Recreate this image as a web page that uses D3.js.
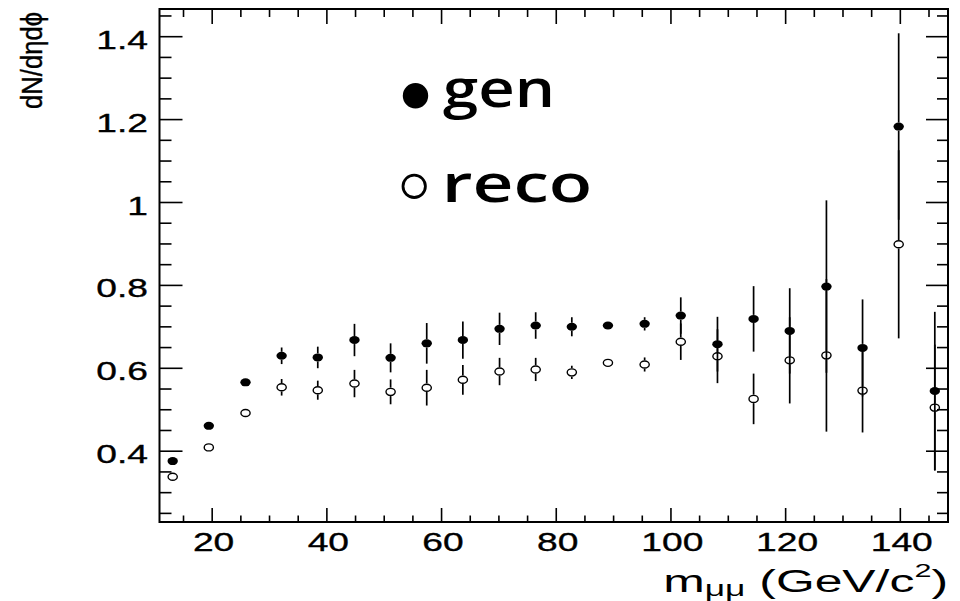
<!DOCTYPE html>
<html>
<head>
<meta charset="utf-8">
<script src="https://cdn.jsdelivr.net/npm/d3@7"></script>
<style>
  html, body { margin: 0; padding: 0; background: #fff; }
  svg { display: block; }
</style>
</head>
<body>
<svg id="chart" width="960" height="601"></svg>
<script>
// ---- data ----
const massBins = [13.2, 19.5, 25.9, 32.2, 38.5, 44.9, 51.2, 57.5, 63.8, 70.2, 76.5,
                  82.8, 89.1, 95.5, 101.8, 108.2, 114.5, 120.8, 127.2, 133.5, 139.8, 146.1];
const genValues = [0.375, 0.460, 0.565, 0.629, 0.625, 0.667, 0.624, 0.659, 0.667, 0.694, 0.702,
                   0.699, 0.702, 0.706, 0.726, 0.657, 0.718, 0.689, 0.796, 0.648, 1.182, 0.544];
const genErrors = [0.004, 0.003, 0.005, 0.020, 0.026, 0.039, 0.035, 0.049, 0.045, 0.039, 0.032,
                   0.023, 0.004, 0.016, 0.044, 0.066, 0.079, 0.103, 0.208, 0.117, 0.225, 0.191];
const recoValues = [0.337, 0.408, 0.491, 0.553, 0.546, 0.562, 0.542, 0.552, 0.571, 0.591, 0.596,
                    0.589, 0.612, 0.608, 0.663, 0.628, 0.525, 0.618, 0.630, 0.545, 0.898, 0.504];
const recoErrors = [0.003, 0.003, 0.005, 0.020, 0.023, 0.033, 0.030, 0.043, 0.036, 0.033, 0.028,
                    0.016, 0.005, 0.017, 0.044, 0.065, 0.061, 0.104, 0.184, 0.101, 0.227, 0.152];
const xTickValues = [20, 40, 60, 80, 100, 120, 140];
const xMinorValues = d3.range(15, 150, 5).filter(v => v % 20 !== 0);
const yTickValues = [0.4, 0.6, 0.8, 1.0, 1.2, 1.4];
const yMinorValues = d3.range(25, 150, 5).map(v => v / 100).filter(v => Math.round(v * 100) % 20 !== 0);
const legendLabels = ["gen", "reco"];
const xTitle = {main: "m", sub: "\u03bc\u03bc", rest: " (GeV/c", sup: "2", close: ")"};
const yTitle = "dN/d\u03b7d\u03d5";

// ---- layout ----
const L = 159.5, R = 948, T = 9, B = 522;
const x = d3.scaleLinear().domain([10.9, 148.4]).range([L, R]);
const y = d3.scaleLinear().domain([0.228, 1.4656]).range([B, T]);

const svg = d3.select("#chart");
const tickFont = "'Liberation Sans', Arial, Helvetica, sans-serif";
const labelScale = 1.43;

function styleAxis(sel) {
  sel.select(".domain").remove();
  sel.selectAll("line").attr("stroke", "#000").attr("stroke-width", 1.6);
}

// minor ticks
svg.append("g").attr("transform", `translate(0,${B})`)
  .call(d3.axisBottom(x).tickValues(xMinorValues).tickSize(-6.5).tickFormat("")).call(styleAxis);
svg.append("g").attr("transform", `translate(0,${T})`)
  .call(d3.axisTop(x).tickValues(xMinorValues).tickSize(-8).tickFormat("")).call(styleAxis);
svg.append("g").attr("transform", `translate(${L},0)`)
  .call(d3.axisLeft(y).tickValues(yMinorValues).tickSize(-12).tickFormat("")).call(styleAxis);
svg.append("g").attr("transform", `translate(${R},0)`)
  .call(d3.axisRight(y).tickValues(yMinorValues).tickSize(-11).tickFormat("")).call(styleAxis);

// major ticks
const xb = svg.append("g").attr("transform", `translate(0,${B})`)
  .call(d3.axisBottom(x).tickValues(xTickValues).tickSize(-14).tickFormat(d3.format("d")));
styleAxis(xb);
xb.selectAll("text").attr("y", 29).attr("dy", 0).attr("x", 1)
  .attr("transform", `scale(${labelScale},1)`)
  .style("font-family", tickFont).style("font-size", "26px").attr("fill", "#000")
  .attr("stroke", "#000").attr("stroke-width", 0.35);

svg.append("g").attr("transform", `translate(0,${T})`)
  .call(d3.axisTop(x).tickValues(xTickValues).tickSize(-15).tickFormat("")).call(styleAxis);

const yl = svg.append("g").attr("transform", `translate(${L},0)`)
  .call(d3.axisLeft(y).tickValues(yTickValues).tickSize(-23).tickFormat(d => d3.format("")(+d.toFixed(1))));
styleAxis(yl);
yl.selectAll("text").attr("x", -11.5 / labelScale).attr("y", 12).attr("dy", 0)
  .attr("transform", `scale(${labelScale},1)`)
  .style("font-family", tickFont).style("font-size", "26px").attr("fill", "#000")
  .attr("stroke", "#000").attr("stroke-width", 0.35);

svg.append("g").attr("transform", `translate(${R},0)`)
  .call(d3.axisRight(y).tickValues(yTickValues).tickSize(-22).tickFormat("")).call(styleAxis);

// frame
svg.append("rect").attr("x", L).attr("y", T).attr("width", R - L).attr("height", B - T)
  .attr("fill", "none").attr("stroke", "#000").attr("stroke-width", 2);

// ---- data marks ----
const genRx = 5.2, genRy = 4, recoRx = 5.3, recoRy = 4.2;
function drawSeries(values, errors, rx, ry, filled) {
  const g = svg.append("g");
  values.forEach((v, i) => {
    const cx = x(massBins[i]), cy = y(v);
    const top = y(v + errors[i]), bot = y(v - errors[i]);
    if (cy - top > ry) {
      g.append("line").attr("x1", cx).attr("x2", cx).attr("y1", top).attr("y2", cy - ry)
        .attr("stroke", "#000").attr("stroke-width", 1.7);
      g.append("line").attr("x1", cx).attr("x2", cx).attr("y1", cy + ry).attr("y2", bot)
        .attr("stroke", "#000").attr("stroke-width", 1.7);
    }
  });
  g.selectAll("ellipse").data(values).enter().append("ellipse")
    .attr("cx", (d, i) => x(massBins[i])).attr("cy", d => y(d))
    .attr("rx", filled ? rx : rx - 0.7).attr("ry", filled ? ry : ry - 0.7)
    .attr("fill", filled ? "#000" : "none")
    .attr("stroke", filled ? "none" : "#000").attr("stroke-width", 1.4);
}
drawSeries(genValues, genErrors, genRx, genRy, true);
drawSeries(recoValues, recoErrors, recoRx, recoRy, false);

// ---- legend ----
const legendFont = "'Open Sans', 'Noto Sans', sans-serif";
svg.append("circle").attr("cx", 415.5).attr("cy", 95.8).attr("r", 12.7).attr("fill", "#000");
svg.append("circle").attr("cx", 414.2).attr("cy", 186.3).attr("r", 11.2)
  .attr("fill", "none").attr("stroke", "#000").attr("stroke-width", 2.8);

function fitStart(textSel, x0, y0, targetW) {
  const bb = textSel.node().getBBox();
  const s = targetW / bb.width;
  textSel.attr("x", 0).attr("y", 0)
    .attr("transform", `translate(${x0},${y0}) scale(${s},1) translate(${-bb.x},0)`);
}
const t1 = svg.append("text").text(legendLabels[0])
  .style("font-family", legendFont).style("font-weight", 600).style("font-size", "53px");
fitStart(t1, 443, 106.7, 112);
const t2 = svg.append("text").text(legendLabels[1])
  .style("font-family", legendFont).style("font-weight", 600).style("font-size", "53px");
fitStart(t2, 441.7, 201.5, 150.5);

// ---- axis titles ----
const xt = svg.append("text").attr("text-anchor", "end")
  .style("font-family", tickFont).style("font-size", "31px").attr("fill", "#000");
xt.append("tspan").text(xTitle.main);
xt.append("tspan").text(xTitle.sub).style("font-size", "22px").attr("dy", 4);
xt.append("tspan").text(xTitle.rest).attr("dy", -4);
xt.append("tspan").text(xTitle.sup).style("font-size", "19px").attr("dy", -15);
xt.append("tspan").text(xTitle.close).attr("dy", 15);
{
  const bb = xt.node().getBBox();
  const s = 285 / bb.width;
  xt.attr("x", 0).attr("y", 0).attr("transform", `translate(${R},592) scale(${s},1)`);
}

const yt = svg.append("text").attr("text-anchor", "end").text(yTitle)
  .style("font-family", tickFont).style("font-size", "30px").attr("fill", "#000")
  .attr("stroke", "#000").attr("stroke-width", 0.4);
{
  const bb = yt.node().getBBox();
  const s = 97 / bb.width;
  yt.attr("x", 0).attr("y", 0).attr("transform", `translate(42,12) rotate(-90) scale(${s},1)`);
}
</script>
</body>
</html>
